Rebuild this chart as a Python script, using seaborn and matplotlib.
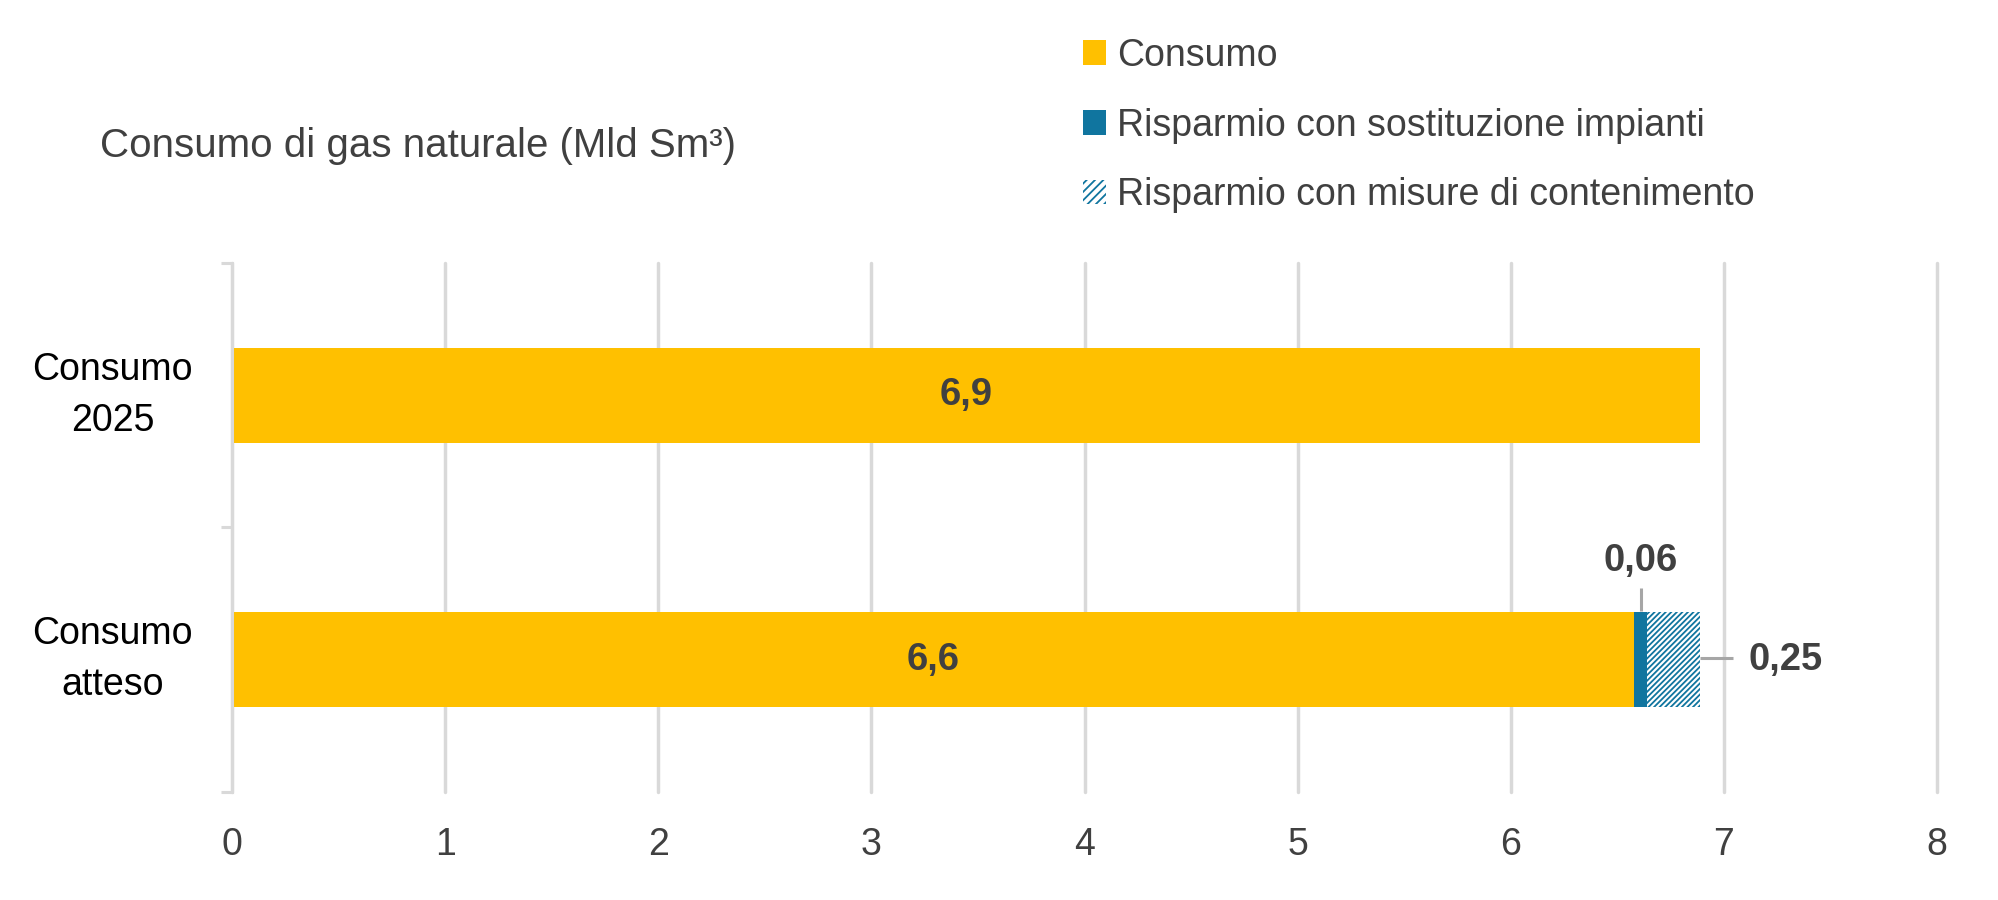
import pandas as pd
import matplotlib.pyplot as plt
import seaborn as sns
from matplotlib.patches import Patch

# dati
categorie = ["Consumo\n2025", "Consumo\natteso"]
consumo = [6.89, 6.58]
risparmio_impianti = [0.0, 0.06]
risparmio_misure = [0.0, 0.25]
etichette_consumo = ["6,9", "6,6"]
etichetta_impianti = "0,06"
etichetta_misure = "0,25"
serie = ["Consumo", "Risparmio con sostituzione impianti", "Risparmio con misure di contenimento"]

GIALLO = "#FFC000"
BLU = "#10759F"
GRIGIO = "#404040"
LINEA = "#A6A6A6"

df = pd.DataFrame({"categoria": categorie, "consumo": consumo,
                   "impianti": risparmio_impianti, "misure": risparmio_misure})
df["cum1"] = df["consumo"] + df["impianti"]
df["cum2"] = df["cum1"] + df["misure"]

sns.set_style("white")
plt.rcParams["font.family"] = ["Liberation Sans", "DejaVu Sans"]
plt.rcParams["hatch.linewidth"] = 1.3

fig = plt.figure(figsize=(19.98, 9), dpi=100)
ax = fig.add_axes([0.1161, 0.12, 0.8534, 0.5878])

# barre impilate (disegnate dal totale verso l'interno)
sns.barplot(data=df, y="categoria", x="cum2", orient="h", color="white", saturation=1,
            width=0.36, edgecolor=BLU, linewidth=0, hatch="//////", ax=ax)
sns.barplot(data=df, y="categoria", x="cum1", orient="h", color=BLU, saturation=1,
            width=0.36, linewidth=0, ax=ax)
sns.barplot(data=df, y="categoria", x="consumo", orient="h", color=GIALLO, saturation=1,
            width=0.36, linewidth=0, ax=ax)

ax.set_xlim(0, 8)
ax.set_ylim(1.5, -0.5)
ax.set_xlabel("")
ax.set_ylabel("")
ax.xaxis.grid(True, color="#D9D9D9", linewidth=2.5)
for gl in ax.get_xgridlines():
    gl.set_clip_on(False)
ax.set_axisbelow(True)
for s in ["top", "right", "bottom"]:
    ax.spines[s].set_visible(False)
ax.spines["left"].set_color("#D9D9D9")
ax.spines["left"].set_linewidth(2.2)

ax.tick_params(axis="x", length=0, pad=25.5, labelsize=27, labelcolor=GRIGIO)
ax.tick_params(axis="y", which="major", length=0, pad=86, labelsize=27, labelcolor="black")
ax.set_yticks([-0.5, 0.5, 1.5], minor=True)
ax.tick_params(axis="y", which="minor", left=True, length=8, width=2.2,
               color="#D9D9D9", direction="out")
for lab in ax.get_yticklabels():
    lab.set_ha("center")
    lab.set_va("center")
    lab.set_linespacing(1.52)

# etichette dei valori
stile = dict(fontsize=27.5, fontweight="bold", color=GRIGIO)
for i in range(len(categorie)):
    ax.text(consumo[i] / 2, i, etichette_consumo[i], ha="center", va="center", **stile)

xi = consumo[1] + risparmio_impianti[1] / 2
ax.plot([xi, xi], [0.816, 0.729], color=LINEA, linewidth=2.2, solid_capstyle="butt")
ax.text(xi, 0.626, etichetta_impianti, ha="center", va="center", **stile)

xm = df["cum2"][1]
ax.plot([xm, 7.044], [0.995, 0.995], color=LINEA, linewidth=2.2, solid_capstyle="butt")
ax.text(7.114, 1.0, etichetta_misure, ha="left", va="center", **stile)

# titolo
fig.text(0.05, 0.8256, "Consumo di gas naturale (Mld Sm³)", ha="left", va="baseline",
         fontsize=29, color=GRIGIO)

# legenda
handles = [Patch(facecolor=GIALLO, edgecolor="none"),
           Patch(facecolor=BLU, edgecolor="none"),
           Patch(facecolor="white", edgecolor=BLU, linewidth=0, hatch="////")]
fig.legend(handles, serie, loc="upper left", bbox_to_anchor=(0.542, 0.958), frameon=False,
           fontsize=27, labelcolor=GRIGIO, handlelength=0.62, handleheight=0.62,
           handletextpad=0.3, labelspacing=0.9, borderaxespad=0, borderpad=0)

fig.savefig("out.png", dpi=100)
plt.close(fig)
